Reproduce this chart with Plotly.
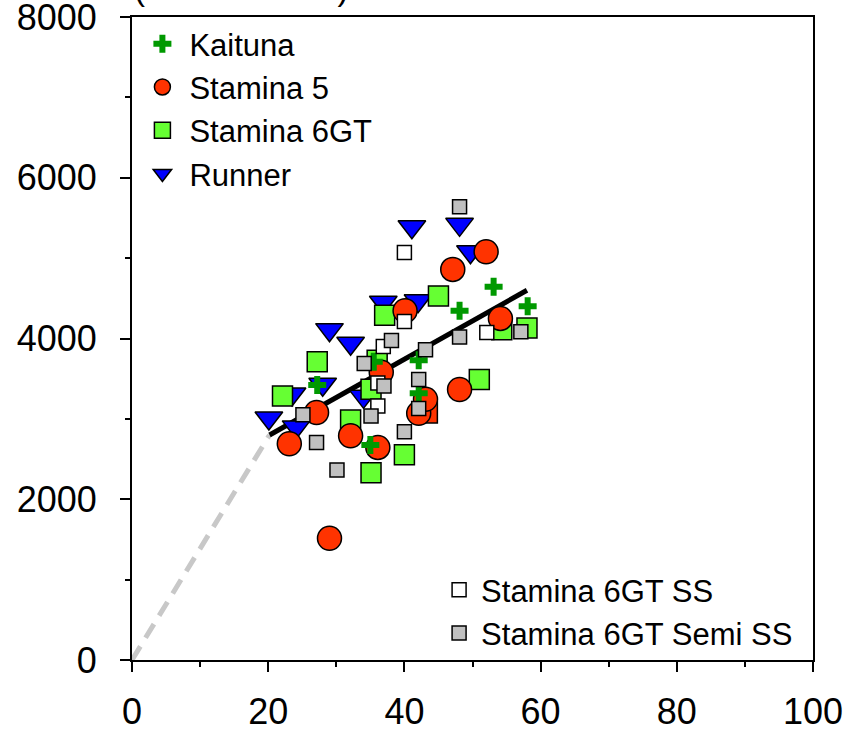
import plotly.graph_objects as go

# ---- data ----
kaituna_x = [27.2, 35.5, 35.0, 42.1, 42.1, 48.1, 53.1, 58.1]
kaituna_y = [3420, 3710, 2675, 3730, 3320, 4345, 4645, 4400]

stamina5_x = [23.1, 27.1, 29.0, 32.1, 36.1, 36.6, 40.1, 42.1, 43.1, 47.1, 48.1, 52.0, 54.1]
stamina5_y = [2690, 3080, 1515, 2790, 2645, 3580, 4345, 3070, 3245, 4860, 3365, 5080, 4250]
stamina5_sq_x = [43.3]
stamina5_sq_y = [3080]

stamina6_x = [22.1, 27.2, 32.1, 35.1, 35.1, 36.0, 37.1, 40.0, 45.0, 51.0, 54.3, 58.0]
stamina6_y = [3285, 3710, 2985, 3370, 2330, 3730, 4290, 2555, 4530, 3490, 4110, 4130]

runner_x = [20.1, 23.5, 24.1, 28.0, 29.0, 32.1, 34.0, 36.9, 41.1, 42.0, 48.1, 49.7]
runner_y = [3010, 3310, 2900, 3430, 4110, 3940, 3280, 4450, 5390, 4470, 5420, 5080]

ss_x = [36.1, 36.1, 36.9, 40.0, 40.0, 52.1]
ss_y = [3160, 3445, 3900, 4210, 5070, 4075]

semi_x = [25.1, 27.1, 30.1, 34.1, 35.1, 37.0, 38.1, 40.0, 42.1, 42.1, 43.1, 48.1, 48.1, 57.1]
semi_y = [3050, 2705, 2365, 3690, 3035, 3410, 3975, 2840, 3490, 3130, 3860, 4020, 5640, 4085]

fit_x = [20.2, 58.0]
fit_y = [2800, 4600]
origin_x = [0, 20.2]
origin_y = [0, 2800]

x_ticks = [0, 20, 40, 60, 80, 100]
y_ticks = [0, 2000, 4000, 6000, 8000]

FONT = "Liberation Sans, Arial, sans-serif"
OUT = dict(color="black", width=1.5)

fig = go.Figure()

fig.add_trace(go.Scatter(x=origin_x, y=origin_y, mode="lines", showlegend=False,
                         line=dict(color="#c8c8c8", width=5, dash="16px,10px")))
fig.add_trace(go.Scatter(x=fit_x, y=fit_y, mode="lines", showlegend=False,
                         line=dict(color="black", width=5)))

fig.add_trace(go.Scatter(x=runner_x, y=runner_y, mode="markers", name="Runner",
                         legend="legend", legendrank=4,
                         marker=dict(symbol="triangle-down", size=24, color="#0000ff", line=OUT)))
fig.add_trace(go.Scatter(x=stamina6_x, y=stamina6_y, mode="markers", name="Stamina 6GT",
                         legend="legend", legendrank=3,
                         marker=dict(symbol="square", size=20, color="#66ff33", line=OUT)))
fig.add_trace(go.Scatter(x=stamina5_sq_x, y=stamina5_sq_y, mode="markers", name="Stamina 5",
                         showlegend=False,
                         marker=dict(symbol="square", size=21, color="#ff3300", line=OUT)))
fig.add_trace(go.Scatter(x=stamina5_x, y=stamina5_y, mode="markers", name="Stamina 5",
                         legend="legend", legendrank=2,
                         marker=dict(symbol="circle", size=24, color="#ff3300", line=OUT)))
fig.add_trace(go.Scatter(x=kaituna_x, y=kaituna_y, mode="markers", name="Kaituna",
                         legend="legend", legendrank=1,
                         marker=dict(symbol="cross", size=15, color="#009900", line=dict(width=0))))
fig.add_trace(go.Scatter(x=ss_x, y=ss_y, mode="markers", name="Stamina 6GT SS",
                         legend="legend2", legendrank=1,
                         marker=dict(symbol="square", size=14, color="white", line=OUT)))
fig.add_trace(go.Scatter(x=semi_x, y=semi_y, mode="markers", name="Stamina 6GT Semi SS",
                         legend="legend2", legendrank=2,
                         marker=dict(symbol="square", size=14, color="#c0c0c0", line=OUT)))

axis_common = dict(showline=True, linecolor="black", linewidth=2, mirror=True,
                   ticks="outside", ticklen=10, tickwidth=2, tickcolor="black",
                   showgrid=False, zeroline=False, automargin=False,
                   ticklabeloverflow="allow",
                   tickfont=dict(family=FONT, size=36, color="black"))

fig.update_layout(
    width=857, height=737,
    margin=dict(l=132, r=44, t=17, b=77, autoexpand=False),
    paper_bgcolor="white", plot_bgcolor="white",
    font=dict(family=FONT, color="black"),
    xaxis=dict(range=[0, 100], tickvals=x_ticks, ticklabelstandoff=9,
               minor=dict(dtick=10, ticklen=5, tickwidth=2, tickcolor="black", ticks="outside"),
               **axis_common),
    yaxis=dict(range=[0, 8000], tickvals=y_ticks, ticklabelstandoff=16,
               minor=dict(dtick=1000, ticklen=5, tickwidth=2, tickcolor="black", ticks="outside"),
               **axis_common),
    legend=dict(x=0.005, y=1.0, xanchor="left", yanchor="top", bgcolor="rgba(0,0,0,0)",
                font=dict(family=FONT, size=31), itemsizing="trace", itemwidth=44,
                traceorder="normal"),
    legend2=dict(x=0.448, y=0.0, xanchor="left", yanchor="bottom", bgcolor="rgba(0,0,0,0)",
                 font=dict(family=FONT, size=31), itemsizing="trace", itemwidth=34,
                 traceorder="normal"),
    annotations=[dict(text="(Shoot DM/ha)", xref="paper", yref="paper", x=0.161, y=1.013,
                      xanchor="center", yanchor="bottom", showarrow=False,
                      font=dict(family=FONT, size=33, color="black"))],
)

fig.write_html("out.html")
